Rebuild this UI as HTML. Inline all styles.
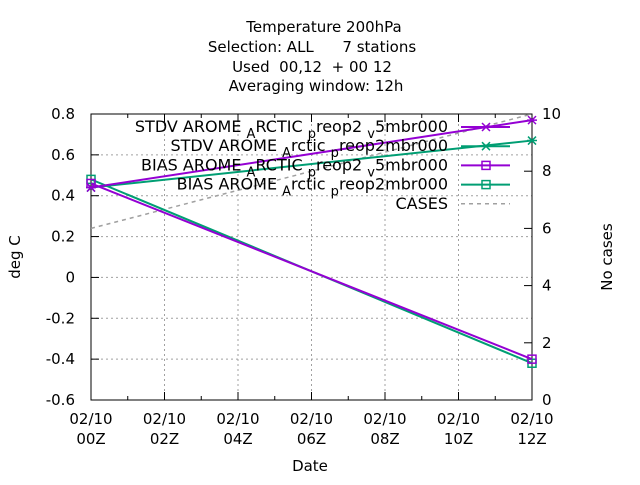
<!DOCTYPE html>
<html><head><meta charset="utf-8"><style>
body{margin:0;background:#fff;}
svg{font-family:"DejaVu Sans","Liberation Sans",sans-serif;font-size:15px;}
text{white-space:pre;}
</style></head><body>
<svg id="chart" width="640" height="480" xmlns="http://www.w3.org/2000/svg">
<g id="titles" text-anchor="middle" fill="#000">
<text x="324" y="32">Temperature 200hPa</text>
<text x="312" y="52">Selection: ALL      7 stations</text>
<text x="312" y="72">Used  00,12  + 00 12</text>
<text x="316" y="91">Averaging window: 12h</text>
</g>
<g id="grid"></g>
<g id="axes"></g>
<g id="series"></g>
<g id="legend"></g>
<text x="20" y="257" text-anchor="middle" transform="rotate(-90 20 257)">deg C</text>
<text x="612" y="257" text-anchor="middle" transform="rotate(-90 612 257)">No cases</text>
<text x="310" y="471" text-anchor="middle">Date</text>
</svg>
<script>
const hours = [0, 12];
const xTickLabels = ["00Z","02Z","04Z","06Z","08Z","10Z","12Z"];
const yTicks = [0.8,0.6,0.4,0.2,0,-0.2,-0.4,-0.6];
const yTickLabels = ["0.8","0.6","0.4","0.2","0","-0.2","-0.4","-0.6"];
const y2Ticks = [0,2,4,6,8,10];
const stdvArctic = [0.44, 0.77];
const stdvArcticLow = [0.44, 0.67];
const biasArctic = [0.46, -0.40];
const biasArcticLow = [0.48, -0.42];
const cases = [6, 10];

const L=91,R=532,T=114,B=400;
const xs=h=>L+(R-L)*h/12;
const ys=v=>T+(B-T)*(0.8-v)/1.4;
const y2s=v=>B-(B-T)*v/10;
const NS="http://www.w3.org/2000/svg";
function mk(tag,attrs,parent,text){const e=document.createElementNS(NS,tag);for(const k in attrs)e.setAttribute(k,attrs[k]);if(text!==undefined)e.textContent=text;parent.appendChild(e);return e;}
const grid=document.getElementById('grid'),axes=document.getElementById('axes'),series=document.getElementById('series'),legend=document.getElementById('legend');

yTicks.forEach((v,i)=>{
  const y=ys(v);
  if(i>0&&i<yTicks.length-1){const g=mk('line',{x1:L,x2:R,y1:y,y2:y,stroke:'#a0a0a0','stroke-dasharray':'2,3'},grid);
  
  }
  mk('line',{x1:L,x2:L+8,y1:y,y2:y,stroke:'#000'},axes);
  const t=mk('text',{x:L-16,y:y+5,'text-anchor':'end'},axes,yTickLabels[i]);
  
  
});
y2Ticks.forEach(v=>{
  const y=y2s(v);
  mk('line',{x1:R-8,x2:R,y1:y,y2:y,stroke:'#000'},axes);
  const t=mk('text',{x:R+10,y:y+5,'text-anchor':'start'},axes,String(v));
  
  
});
for(let h=0;h<=12;h++){
  const x=xs(h);
  const major=h%2===0;
  mk('line',{x1:x,x2:x,y1:B,y2:B-(major?8:4),stroke:'#000'},axes);
  mk('line',{x1:x,x2:x,y1:T,y2:T+(major?8:4),stroke:'#000'},axes);
  if(major){
    const i=h/2;
    if(i>0&&i<6){const g=mk('line',{x1:x,x2:x,y1:T,y2:B,stroke:'#a0a0a0','stroke-dasharray':'2,3'},grid);
    
    }
    const t=mk('text',{x:x,y:B+24,'text-anchor':'middle'},axes);
    
    
    mk('tspan',{x:x},t,'02/10');
    mk('tspan',{x:x,dy:20},t,xTickLabels[i]);
  }
}
const fr=mk('rect',{x:L,y:T,width:R-L,height:B-T,fill:'none',stroke:'#000'},axes);



function xmark(x,y,c,p){mk('path',{d:`M${x-4},${y-4}L${x+4},${y+4}M${x-4},${y+4}L${x+4},${y-4}M${x-5},${y}L${x+5},${y}`,stroke:c,'stroke-width':1.5,fill:'none'},p);}
function sq(x,y,c,p){mk('rect',{x:x-4,y:y-4,width:8,height:8,stroke:c,'stroke-width':1.5,fill:'none'},p);}

const cg=mk('g',{},series);


mk('polyline',{points:hours.map((h,i)=>xs(h)+','+y2s(cases[i])).join(' '),fill:'none',stroke:'#a0a0a0','stroke-width':1.5,'stroke-dasharray':'4,4'},cg);

const defs=[
 {d:stdvArcticLow,c:'#009e73',m:xmark,n:'series-stdv-arctic-preop2'},
 {d:biasArcticLow,c:'#009e73',m:sq,n:'series-bias-arctic-preop2'},
 {d:stdvArctic,c:'#9400d3',m:xmark,n:'series-stdv-arctic-preop2-v5'},
 {d:biasArctic,c:'#9400d3',m:sq,n:'series-bias-arctic-preop2-v5'}];
defs.forEach(s=>{
  const g=mk('g',{},series);
  
  
  mk('polyline',{points:hours.map((h,i)=>xs(h)+','+ys(s.d[i])).join(' '),fill:'none',stroke:s.c,'stroke-width':2},g);
  hours.forEach((h,i)=>s.m(xs(h),ys(s.d[i]),s.c,g));
});

const legRows=[
 {parts:[['STDV AROME ',0],['A',1],['RCTIC ',0],['p',1],['reop2 ',0],['v',1],['5mbr000',0]],c:'#9400d3',m:xmark},
 {parts:[['STDV AROME ',0],['A',1],['rctic ',0],['p',1],['reop2mbr000',0]],c:'#009e73',m:xmark},
 {parts:[['BIAS AROME ',0],['A',1],['RCTIC ',0],['p',1],['reop2 ',0],['v',1],['5mbr000',0]],c:'#9400d3',m:sq},
 {parts:[['BIAS AROME ',0],['A',1],['rctic ',0],['p',1],['reop2mbr000',0]],c:'#009e73',m:sq},
 {parts:[['CASES',0]],c:'#a0a0a0',m:null}];
legRows.forEach((r,i)=>{
  const y=127+i*19.2;
  const g=mk('g',{},legend);
  
  
  const t=mk('text',{x:448,y:y+5,'text-anchor':'end','font-size':16},g);
  let sub=false;
  r.parts.forEach(p=>{
    const a={};
    if(p[1]){a.dy=6;a['font-size']=13;sub=true;}
    else if(sub){a.dy=-6;sub=false;}
    mk('tspan',a,t,p[0]);
  });
  if(r.m){mk('line',{x1:461,x2:510,y1:y,y2:y,stroke:r.c,'stroke-width':2},g);r.m(486,y,r.c,g);}
  else mk('line',{x1:461,x2:510,y1:y,y2:y,stroke:r.c,'stroke-width':1.5,'stroke-dasharray':'4,4'},g);
});
</script>
</body></html>
